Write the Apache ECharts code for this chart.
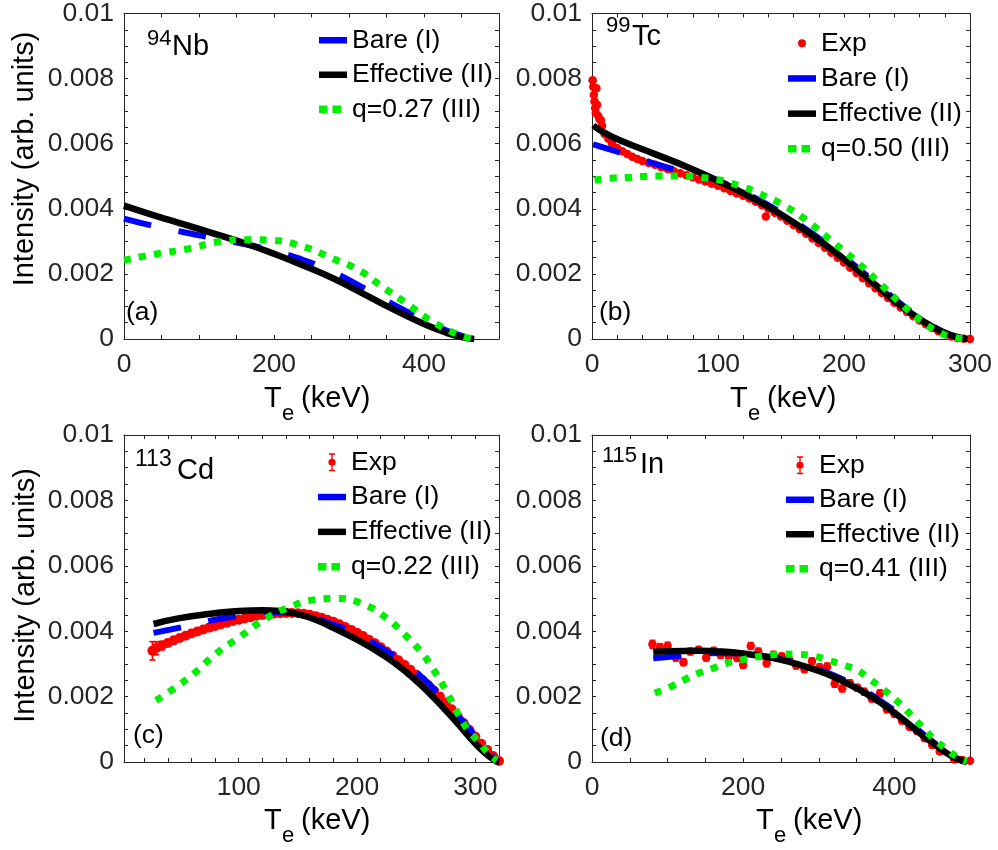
<!DOCTYPE html>
<html><head><meta charset="utf-8">
<script src="https://cdn.jsdelivr.net/npm/echarts@6/dist/echarts.min.js"></script>
<style>html,body{margin:0;padding:0;background:#fff}#c{width:998px;height:850px}</style>
</head><body><div id="c"></div>
<script>
// ---------- DATA (intensity in units of 1e-3, energy in keV) ----------
// Panel (a) 94Nb
const aBareX = [0, 40, 80, 120, 160, 200, 240, 280, 320, 360, 400, 430, 450, 467];
const aBareY = [3.70, 3.47, 3.28, 3.10, 2.92, 2.70, 2.42, 2.04, 1.56, 1.05, 0.58, 0.26, 0.10, 0];
const aEffX  = [0, 40, 80, 120, 160, 200, 240, 280, 320, 360, 400, 430, 450, 467];
const aEffY  = [4.10, 3.80, 3.52, 3.24, 2.95, 2.62, 2.25, 1.85, 1.38, 0.90, 0.46, 0.19, 0.06, 0];
const aQX    = [0, 45, 86, 124, 163, 198, 239, 278, 312, 345, 378, 411, 447, 467];
const aQY    = [2.42, 2.62, 2.77, 2.98, 3.05, 3.03, 2.84, 2.47, 2.13, 1.60, 1.07, 0.54, 0.12, 0];

// Panel (b) 99Tc
const bExpX = [0.5, 1, 1.5, 2, 2.5, 3, 3.5, 4, 5, 6, 7, 8, 10, 13, 16, 20, 24, 28, 32, 36, 40, 45, 50, 55, 60, 65, 70, 75, 80, 85, 90, 95, 100, 105, 110, 115, 120, 123, 125, 130, 135, 138, 140, 145, 150, 155, 160, 165, 170, 175, 180, 185, 190, 195, 200, 205, 210, 215, 220, 225, 230, 235, 240, 245, 250, 255, 260, 265, 270, 275, 280, 285, 290, 295, 300];
const bExpY = [7.95, 7.75, 7.50, 7.30, 7.10, 6.95, 7.70, 7.20, 6.85, 6.75, 6.72, 6.55, 6.30, 6.15, 6.00, 5.87, 5.77, 5.68, 5.60, 5.53, 5.47, 5.41, 5.35, 5.28, 5.22, 5.15, 5.09, 5.03, 4.97, 4.90, 4.84, 4.77, 4.71, 4.63, 4.55, 4.47, 4.40, 4.45, 4.32, 4.22, 4.11, 3.76, 4.00, 3.88, 3.76, 3.63, 3.50, 3.37, 3.23, 3.09, 2.95, 2.80, 2.65, 2.50, 2.35, 2.19, 2.03, 1.87, 1.71, 1.56, 1.41, 1.26, 1.11, 0.97, 0.83, 0.70, 0.57, 0.45, 0.34, 0.24, 0.15, 0.08, 0.03, 0.01, 0.00];
const bBareX = [1, 22, 47, 66, 85, 100, 125, 145, 165, 185, 200, 222, 240, 254, 270, 285, 298];
const bBareY = [5.98, 5.73, 5.42, 5.20, 5.04, 4.86, 4.42, 4.00, 3.50, 2.96, 2.52, 1.82, 1.24, 0.82, 0.41, 0.12, 0];
const bEffX  = [1, 10, 23, 50, 76, 100, 125, 145, 165, 185, 200, 222, 240, 254, 270, 285, 298];
const bEffY  = [6.56, 6.33, 6.09, 5.68, 5.28, 4.86, 4.38, 3.95, 3.45, 2.90, 2.46, 1.76, 1.18, 0.77, 0.38, 0.11, 0];
const bQX    = [2, 15, 27, 39, 51, 63, 75, 87, 99, 110, 121, 132, 154, 173, 191, 200, 209, 226, 245, 262, 272, 284, 298];
const bQY    = [4.88, 4.94, 4.96, 4.99, 5.01, 5.01, 5.00, 4.96, 4.90, 4.79, 4.66, 4.48, 4.07, 3.56, 2.98, 2.70, 2.41, 1.80, 1.09, 0.53, 0.28, 0.08, 0];

// Panel (c) 113Cd
const cExpX = [27, 30, 35, 40, 45, 50, 55, 60, 65, 70, 75, 80, 85, 90, 95, 100, 105, 110, 115, 120, 125, 130, 135, 140, 145, 150, 155, 160, 165, 170, 175, 180, 185, 190, 195, 200, 205, 210, 215, 220, 225, 230, 235, 240, 245, 250, 255, 260, 265, 270, 275, 280, 285, 290, 295, 300, 305, 310, 315, 320];
const cExpY = [3.40, 3.48, 3.56, 3.64, 3.72, 3.79, 3.86, 3.93, 3.99, 4.05, 4.11, 4.16, 4.21, 4.26, 4.31, 4.35, 4.39, 4.43, 4.47, 4.50, 4.52, 4.54, 4.55, 4.56, 4.56, 4.55, 4.53, 4.50, 4.46, 4.41, 4.35, 4.29, 4.21, 4.13, 4.04, 3.95, 3.85, 3.74, 3.63, 3.51, 3.38, 3.25, 3.11, 2.97, 2.82, 2.67, 2.51, 2.35, 2.18, 2.00, 1.81, 1.61, 1.40, 1.19, 0.98, 0.77, 0.56, 0.37, 0.18, 0.03];
const cExpErr = [0.28, 0.20, 0.13, 0.09, 0.07, 0.06, 0.05, 0.05, 0.05, 0.05, 0.05, 0.05, 0.05, 0.05, 0.05, 0.05, 0.05, 0.05, 0.05, 0.05, 0.05, 0.05, 0.05, 0.05, 0.05, 0.05, 0.05, 0.05, 0.05, 0.05, 0.05, 0.05, 0.05, 0.05, 0.05, 0.05, 0.05, 0.05, 0.05, 0.05, 0.05, 0.05, 0.05, 0.05, 0.05, 0.05, 0.05, 0.05, 0.05, 0.05, 0.05, 0.05, 0.05, 0.05, 0.05, 0.05, 0.05, 0.05, 0.05, 0.05];
const cBareX = [28, 53, 77, 102, 130, 150, 180, 200, 220, 240, 260, 280, 300, 310, 318];
const cBareY = [3.95, 4.13, 4.33, 4.48, 4.58, 4.53, 4.20, 3.90, 3.50, 3.02, 2.42, 1.64, 0.80, 0.38, 0.04];
const cEffX  = [28, 50, 78, 100, 120, 135, 150, 165, 180, 200, 220, 240, 260, 280, 297, 308, 316, 320];
const cEffY  = [4.22, 4.40, 4.54, 4.62, 4.64, 4.62, 4.52, 4.35, 4.10, 3.74, 3.32, 2.80, 2.14, 1.38, 0.68, 0.28, 0.06, 0];
const cQX    = [30, 43, 62, 81, 101, 123, 143, 162, 182, 207, 227, 238, 254, 263, 275, 286, 294, 303, 311, 318];
const cQY    = [1.88, 2.19, 2.70, 3.32, 3.83, 4.39, 4.74, 4.95, 5.00, 4.80, 4.34, 3.98, 3.37, 2.91, 2.19, 1.43, 0.97, 0.61, 0.26, 0.05];

// Panel (d) 115In
const dExpX = [80, 90, 100, 111, 121, 130, 141, 151, 161, 170, 181, 192, 200, 210, 220, 231, 240, 251, 261, 270, 281, 291, 301, 311, 321, 331, 341, 351, 360, 370, 381, 390, 400, 410, 420, 430, 440, 450, 460, 479, 490, 500];
const dExpY = [3.60, 3.51, 3.55, 3.19, 3.05, 3.38, 3.43, 3.19, 3.40, 3.28, 3.23, 3.18, 2.97, 3.55, 3.38, 3.02, 3.28, 3.23, 3.12, 2.95, 2.84, 3.08, 2.90, 2.92, 2.39, 2.25, 2.41, 2.27, 2.15, 1.94, 2.10, 1.61, 1.47, 1.26, 1.08, 0.95, 0.73, 0.52, 0.32, 0.08, 0.06, 0.04];
const dExpErr = [0.12, 0.11, 0.11, 0.10, 0.10, 0.10, 0.10, 0.10, 0.10, 0.10, 0.10, 0.10, 0.10, 0.10, 0.10, 0.10, 0.10, 0.10, 0.10, 0.10, 0.10, 0.10, 0.10, 0.10, 0.10, 0.10, 0.10, 0.10, 0.10, 0.10, 0.10, 0.10, 0.09, 0.09, 0.09, 0.09, 0.08, 0.08, 0.07, 0.05, 0.04, 0.03];
const dBareX = [81, 100, 116, 140, 170, 200, 230, 253, 297, 342, 386, 421, 452, 475, 496];
const dBareY = [3.17, 3.21, 3.24, 3.30, 3.33, 3.31, 3.23, 3.13, 2.85, 2.41, 1.80, 1.18, 0.60, 0.22, 0];
const dEffX  = [81, 100, 143, 170, 200, 230, 253, 275, 297, 320, 342, 365, 386, 405, 421, 437, 452, 465, 475, 485, 496];
const dEffY  = [3.37, 3.39, 3.40, 3.38, 3.32, 3.22, 3.11, 2.97, 2.81, 2.60, 2.35, 2.06, 1.74, 1.42, 1.12, 0.82, 0.56, 0.34, 0.19, 0.08, 0];
const dQX    = [83, 103, 121, 139, 159, 176, 196, 216, 236, 254, 273, 293, 313, 333, 351, 366, 382, 397, 412, 426, 439, 452, 468, 483, 496];
const dQY    = [2.11, 2.29, 2.50, 2.70, 2.86, 3.01, 3.11, 3.21, 3.27, 3.30, 3.29, 3.24, 3.11, 2.96, 2.81, 2.55, 2.29, 1.99, 1.68, 1.33, 1.02, 0.71, 0.41, 0.15, 0.02];

// Axis ranges & tick labels
const xRanges  = [[0, 500], [0, 300], [3, 320], [0, 500]];
const xMajors  = [[0, 200, 400], [0, 100, 200, 300], [100, 200, 300], [0, 200, 400]];
const xMinorSteps = [50, 20, 20, 50];
const yRange   = [0, 10];
const yMajors  = [0, 2, 4, 6, 8, 10];
const yMinorStep = 0.5;
const qLabels  = ['q=0.27 (III)', 'q=0.50 (III)', 'q=0.22 (III)', 'q=0.41 (III)'];

// ---------- CHART ----------
const FONT = "'Liberation Sans', Arial, Helvetica, sans-serif";
const AX = '#262626';
const grids = [
  {left: 124, top: 12, width: 375, height: 327},
  {left: 592, top: 12, width: 378, height: 327},
  {left: 124, top: 435, width: 375, height: 327},
  {left: 592, top: 435, width: 378, height: 327}
];

function tickList(min, max, step) {
  const out = [];
  for (let k = Math.ceil(min / step - 1e-9); k * step <= max + 1e-9; k++) out.push(Math.round(k * step * 1000) / 1000);
  return out;
}
const yTicks = tickList(yRange[0], yRange[1], yMinorStep);
const yFmt = v => v === 0 ? '0' : String(+(v / 1000).toFixed(5));

const xAxes = [], yAxes = [];
grids.forEach((g, i) => {
  const ticks = tickList(xRanges[i][0], xRanges[i][1], xMinorSteps[i]);
  ['bottom', 'top'].forEach(pos => {
    xAxes.push({
      type: 'value', gridIndex: i, min: xRanges[i][0], max: xRanges[i][1], position: pos,
      axisLine: {show: true, onZero: false, lineStyle: {color: AX, width: 1}},
      axisTick: {show: true, inside: true, length: 4, customValues: ticks, lineStyle: {color: AX, width: 1}},
      axisLabel: {show: pos === 'bottom', customValues: xMajors[i], margin: 12, fontSize: 26.5, fontFamily: FONT, color: AX},
      splitLine: {show: false}
    });
  });
  ['left', 'right'].forEach(pos => {
    yAxes.push({
      type: 'value', gridIndex: i, min: yRange[0], max: yRange[1], position: pos,
      axisLine: {show: true, onZero: false, lineStyle: {color: AX, width: 1}},
      axisTick: {show: true, inside: true, length: 4, customValues: yTicks, lineStyle: {color: AX, width: 1}},
      axisLabel: {show: pos === 'left', customValues: yMajors, formatter: yFmt, margin: 10, fontSize: 26.5, fontFamily: FONT, color: AX},
      splitLine: {show: false}
    });
  });
});

const zip = (xs, ys) => xs.map((x, k) => [x, ys[k]]);
function lineSeries(gi, name, xs, ys, color, width, dash, z) {
  return {
    type: 'line', name, xAxisIndex: 2 * gi, yAxisIndex: 2 * gi, data: zip(xs, ys),
    symbol: 'none', showSymbol: false, smooth: 0.5, clip: false,
    color, itemStyle: {color}, lineStyle: {color, width, type: dash, cap: 'butt', join: 'round'},
    z, silent: true, animation: false
  };
}
function expSeries(gi, xs, ys, size) {
  return {
    type: 'scatter', name: 'Exp', xAxisIndex: 2 * gi, yAxisIndex: 2 * gi, data: zip(xs, ys),
    symbol: 'circle', symbolSize: size, clip: false, color: '#ff0000', itemStyle: {color: '#ff0000', opacity: 1},
    z: 2, silent: true, animation: false
  };
}
function errSeries(gi, xs, ys, es) {
  return {
    type: 'custom', name: 'ExpErr', xAxisIndex: 2 * gi, yAxisIndex: 2 * gi, clip: false,
    data: xs.map((x, k) => [x, ys[k] - es[k], ys[k] + es[k]]),
    encode: {x: 0, y: [1, 2]}, z: 2, silent: true, animation: false,
    renderItem: function (params, api) {
      const x = api.value(0);
      const p1 = api.coord([x, api.value(1)]), p2 = api.coord([x, api.value(2)]);
      const st = {stroke: '#ff0000', lineWidth: 1.6};
      return {type: 'group', children: [
        {type: 'line', shape: {x1: p1[0], y1: p1[1], x2: p2[0], y2: p2[1]}, style: st},
        {type: 'line', shape: {x1: p1[0] - 3, y1: p1[1], x2: p1[0] + 3, y2: p1[1]}, style: st},
        {type: 'line', shape: {x1: p2[0] - 3, y1: p2[1], x2: p2[0] + 3, y2: p2[1]}, style: st}
      ]};
    }
  };
}

const BLUE = '#0000ff', BLACK = '#000000', GREEN = '#00f000', BDASH = [28, 28], GDOT = [7, 8.3];
const series = [
  // (a)
  lineSeries(0, 'Bare (I)', aBareX, aBareY, BLUE, 6, BDASH, 3),
  lineSeries(0, 'Effective (II)', aEffX, aEffY, BLACK, 6.5, 'solid', 4),
  lineSeries(0, qLabels[0], aQX, aQY, GREEN, 7, GDOT, 5),
  // (b)
  expSeries(1, bExpX, bExpY, 8.5),
  lineSeries(1, 'Bare (I)', bBareX, bBareY, BLUE, 6, BDASH, 3),
  lineSeries(1, 'Effective (II)', bEffX, bEffY, BLACK, 6.5, 'solid', 4),
  lineSeries(1, qLabels[1], bQX, bQY, GREEN, 7, GDOT, 5),
  // (c)
  errSeries(2, cExpX, cExpY, cExpErr),
  expSeries(2, cExpX, cExpY, 10),
  lineSeries(2, 'Bare (I)', cBareX, cBareY, BLUE, 6, BDASH, 3),
  lineSeries(2, 'Effective (II)', cEffX, cEffY, BLACK, 6.5, 'solid', 4),
  lineSeries(2, qLabels[2], cQX, cQY, GREEN, 7, GDOT, 5),
  // (d)
  errSeries(3, dExpX, dExpY, dExpErr),
  expSeries(3, dExpX, dExpY, 8.5),
  lineSeries(3, 'Bare (I)', dBareX, dBareY, BLUE, 6, BDASH, 3),
  lineSeries(3, 'Effective (II)', dEffX, dEffY, BLACK, 6.5, 'solid', 4),
  lineSeries(3, qLabels[3], dQX, dQY, GREEN, 7, GDOT, 5)
];

const BAR = 'path://M0,0H28V6.5H0Z';
const DOTS = 'path://M0,0H8.5V7.5H0Z M13.5,0H22V7.5H13.5Z M27.95,3.7H28V3.8H27.95Z';
const ERR = 'path://M-3,0H3V1.5H-3Z M-0.7,1.5H0.7V16.5H-0.7Z M-3,16.5H3V18H-3Z M3.6,9A3.6,3.6,0,1,1,-3.6,9A3.6,3.6,0,1,1,3.6,9Z';
function legend(left, top, gap, ih, items) {
  return {
    orient: 'vertical', left, top, itemGap: gap, itemWidth: 28, itemHeight: ih, padding: 0,
    selectedMode: false, itemStyle: {borderWidth: 0, opacity: 1},
    textStyle: {fontSize: 26.5, fontFamily: FONT, color: '#000'},
    data: items
  };
}
const legends = [
  legend(319, 26.75, 7.5, 8, [{name: 'Bare (I)', icon: BAR}, {name: 'Effective (II)', icon: BAR}, {name: qLabels[0], icon: DOTS}]),
  legend(788, 29.75, 8.2, 8, [{name: 'Exp', icon: 'circle'}, {name: 'Bare (I)', icon: BAR}, {name: 'Effective (II)', icon: BAR}, {name: qLabels[1], icon: DOTS}]),
  legend(318, 448.75, 7.8, 18, [{name: 'Exp', icon: ERR}, {name: 'Bare (I)', icon: BAR}, {name: 'Effective (II)', icon: BAR}, {name: qLabels[2], icon: DOTS}]),
  legend(786, 451.75, 7.5, 18, [{name: 'Exp', icon: ERR}, {name: 'Bare (I)', icon: BAR}, {name: 'Effective (II)', icon: BAR}, {name: qLabels[3], icon: DOTS}])
];

function T(x, y, text, size, extra) {
  return Object.assign({
    type: 'text', x, y, silent: true,
    style: {text, fontSize: size, fontFamily: FONT, fill: '#000', align: 'left', verticalAlign: 'middle', textAlign: 'left', textVerticalAlign: 'middle'}
  }, extra || {});
}
function yTitle(x, y) {
  const t = T(x, y, 'Intensity (arb. units)', 29, {rotation: Math.PI / 2});
  t.style.align = 'center'; t.style.textAlign = 'center';
  return t;
}
function xTitle(x0, yc) {
  return [T(x0, yc, 'T', 29), T(x0 + 18, yc + 14.5, 'e', 22), T(x0 + 37, yc, '(keV)', 29)];
}
const graphics = [
  yTitle(25, 159), yTitle(26, 595.5),
  ...xTitle(264, 399), ...xTitle(730, 399), ...xTitle(264, 821), ...xTitle(756, 821),
  T(147, 38.5, '94', 22), T(172, 47, 'Nb', 29),
  T(606, 25.5, '99', 22), T(632, 36.5, 'Tc', 29),
  T(135, 459.5, '113', 23), T(177, 471, 'Cd', 29),
  T(602, 455.5, '115', 22), T(640, 465, 'In', 29),
  T(126, 312.5, '(a)', 26.5), T(599, 313, '(b)', 26.5), T(133, 735.5, '(c)', 26.5), T(600, 738.5, '(d)', 26.5)
];

const chart = echarts.init(document.getElementById('c'), null, {width: 998, height: 850});
chart.setOption({
  animation: false,
  backgroundColor: '#ffffff',
  grid: grids,
  xAxis: xAxes,
  yAxis: yAxes,
  legend: legends,
  series: series,
  graphic: graphics
});
</script></body></html>
